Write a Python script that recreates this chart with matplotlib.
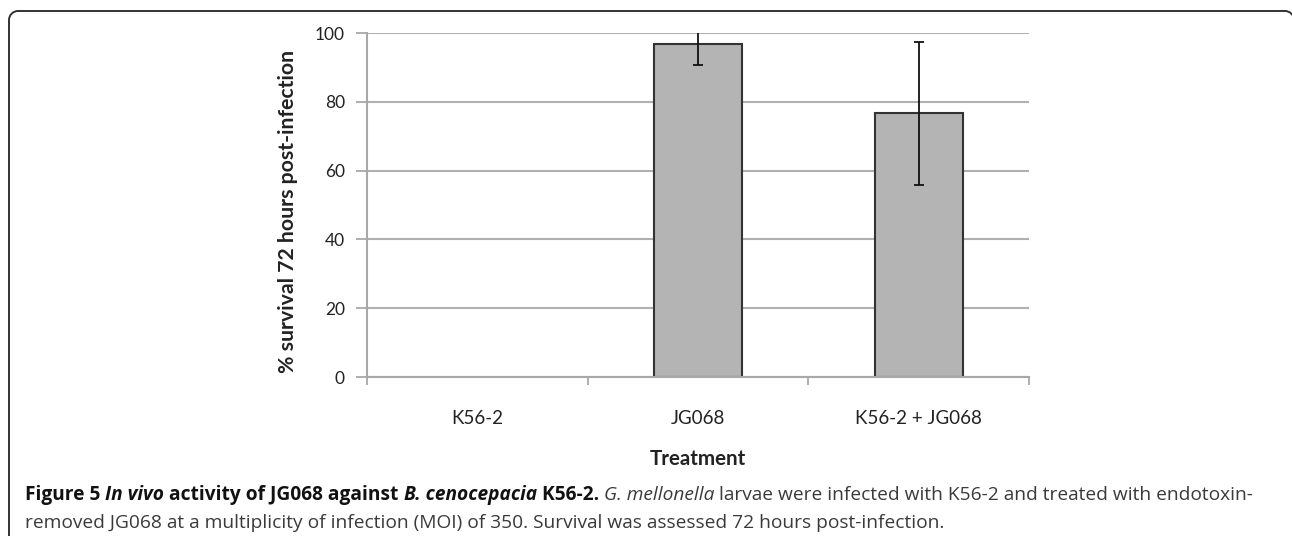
import numpy as np
import matplotlib.pyplot as plt
from matplotlib.patches import PathPatch
from matplotlib.path import Path
from matplotlib.transforms import IdentityTransform

# --- datos ---
tratamientos = ['K56-2', 'JG068', 'K56-2 + JG068']
supervivencia = [0.0, 96.7, 76.7]
error = [0.0, 6.0, 20.8]
ticks_y = [0, 20, 40, 60, 80, 100]

W, H = 1292, 536
fig = plt.figure(figsize=(W / 100, H / 100), dpi=100)

# marco: lado izquierdo, esquinas redondeadas y borde superior (en pixeles)
izq, der, arriba, r = 9, 1294, H - 11, 9
k = 0.5523 * r
verts = [(izq, -5), (izq, arriba - r),
         (izq, arriba - r + k), (izq + r - k, arriba), (izq + r, arriba),
         (der - r, arriba),
         (der - r + k, arriba), (der, arriba - r + k), (der, arriba - r)]
codes = [Path.MOVETO, Path.LINETO,
         Path.CURVE4, Path.CURVE4, Path.CURVE4,
         Path.LINETO,
         Path.CURVE4, Path.CURVE4, Path.CURVE4]
marco = PathPatch(Path(verts, codes), transform=IdentityTransform(), fill=False,
                  edgecolor='#333333', linewidth=1.4)
fig.patches.append(marco)

ax = fig.add_axes([367 / W, 1 - 377 / H, (1029 - 367) / W, (377 - 33) / H])
x = np.arange(len(tratamientos))
anchos_linea = [0 if v == 0 else 1.5 for v in supervivencia]
ax.bar(x, supervivencia, width=0.40, color='#b4b4b4', edgecolor='#333333',
       linewidth=anchos_linea, zorder=2)
ax.errorbar(x, supervivencia, yerr=error, fmt='none', ecolor='#111111',
            elinewidth=1.3, capsize=3.8, capthick=1.3, zorder=2.2)

ax.set_xlim(-0.5, len(tratamientos) - 0.5)
ax.set_ylim(0, 100)
ax.set_yticks(ticks_y)
ax.yaxis.grid(True, color='#b0b0b0', linewidth=1.5)
ax.set_axisbelow(True)

for lado in ['top', 'right']:
    ax.spines[lado].set_visible(False)
for lado in ['left', 'bottom']:
    ax.spines[lado].set_color('#a8a8a8')
    ax.spines[lado].set_linewidth(1.5)
    ax.spines[lado].set_zorder(3)

fuente = 'Lato'
ax.set_xticks(x)
ax.set_xticklabels(tratamientos, family=fuente, fontsize=13.5, color='#222222')
ax.set_xticks(np.arange(-0.5, len(tratamientos), 1.0), minor=True)
ax.tick_params(axis='x', which='major', length=0, pad=24)
ax.tick_params(axis='x', which='minor', length=6, width=1.3, color='#a8a8a8')
ax.tick_params(axis='y', length=8, width=1.3, color='#a8a8a8', pad=8)
for t in ax.get_yticklabels():
    t.set_family(fuente)
    t.set_fontsize(12.5)
    t.set_color('#222222')

ax.set_ylabel('% survival 72 hours post-infection', family=fuente,
              fontsize=15.3, fontweight='bold', color='#222222')
ax.yaxis.set_label_coords(-0.119, 0.481)
ax.yaxis.label.set_va('center')
ax.set_xlabel('Treatment', family=fuente, fontsize=14.8, fontweight='bold',
              color='#222222')
ax.xaxis.set_label_coords(0.5, -0.238)
ax.xaxis.label.set_va('center')

# --- leyenda de la figura (texto con estilos mezclados) ---
fig.canvas.draw()
render = fig.canvas.get_renderer()


def escribir_linea(segmentos, x0, y0, size=13.75):
    xp = x0
    for texto, peso, estilo in segmentos:
        color = '#111111' if peso == 'bold' else '#3a3a3a'
        t = fig.text(xp / W, 1 - y0 / H, texto, family='Open Sans', fontsize=size,
                     fontweight=peso, fontstyle=estilo, color=color,
                     va='baseline', ha='left')
        bb = t.get_window_extent(renderer=render)
        xp += bb.width


linea1 = [
    ('Figure 5 ', 'bold', 'normal'),
    ('In vivo', 'bold', 'italic'),
    (' activity of JG068 against ', 'bold', 'normal'),
    ('B. cenocepacia', 'bold', 'italic'),
    (' K56-2. ', 'bold', 'normal'),
    ('G. mellonella', 'normal', 'italic'),
    (' larvae were infected with K56-2 and treated with endotoxin-', 'normal', 'normal'),
]
linea2 = [
    ('removed JG068 at a multiplicity of infection (MOI) of 350. '
     'Survival was assessed 72 hours post-infection.', 'normal', 'normal'),
]
escribir_linea(linea1, 25, 500)
escribir_linea(linea2, 25, 528)

fig.savefig('out.png', dpi=100)
